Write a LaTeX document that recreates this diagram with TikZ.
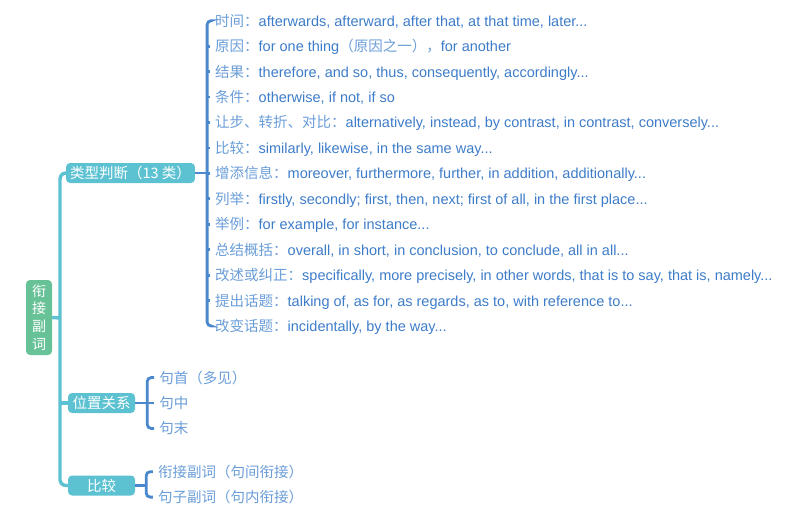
\documentclass[tikz,border=0pt]{standalone}
\usepackage{fontspec}
\setmainfont{Liberation Sans}
\newfontfamily\zh{Noto Sans CJK SC}
\usetikzlibrary{positioning}
\definecolor{Root}{HTML}{68C297}
\definecolor{Teal}{HTML}{5CC2D2}
\definecolor{Bar}{HTML}{4B87CD}
\definecolor{Leaf}{HTML}{3D7CC9}
\definecolor{Soft}{HTML}{6A9DD8}
\newcommand\cn[1]{{\zh\color{Soft}#1}}
\tikzset{
  rootbox/.style={rectangle, rounded corners=4pt, fill=Root, text=white,
    minimum width=26pt, minimum height=75pt, inner sep=0pt, align=center,
    font=\zh\fontsize{14}{17.7}\selectfont},
  catbox/.style={rectangle, rounded corners=4pt, fill=Teal, text=white,
    minimum width=67pt, minimum height=20pt, inner xsep=4pt, inner ysep=0pt,
    text height=11pt, text depth=0pt, font=\zh\fontsize{14.5}{17}\selectfont},
  leaf/.style={anchor=west, inner xsep=5pt, inner ysep=0pt, text height=13pt,
    text depth=2pt, text=Leaf, font=\fontsize{14.5}{17}\selectfont},
  trunk/.style={draw=Teal, line width=3.4pt, rounded corners=6pt},
  bar/.style={draw=Bar, line width=2.8pt, rounded corners=4pt}
}
\begin{document}
\begin{tikzpicture}[x=1pt, y=-1pt, node distance=25.44pt]
  \useasboundingbox (0,0) rectangle (793,520);
  \node[rootbox] (root) at (39,317.5) {衔\\接\\副\\词};
  \node[catbox] (kind) at (130.5,173) {类型判断（13 类）};
  \node[catbox] (pos) at (101.5,403) {位置关系};
  \node[catbox] (cmp) at (101.5,485.5) {比较};
  \coordinate (j0) at (60,318);

  % 类型判断
  \node[leaf] (t1) at (210,20.7) {\cn{时间：}afterwards, afterward, after that, at that time, later...};
  \node[leaf, below=of t1.west, anchor=west] (t2) {\cn{原因：}for one thing\cn{（原因之一），}for another};
  \node[leaf, below=of t2.west, anchor=west] (t3) {\cn{结果：}therefore, and so, thus, consequently, accordingly...};
  \node[leaf, below=of t3.west, anchor=west] (t4) {\cn{条件：}otherwise, if not, if so};
  \node[leaf, below=of t4.west, anchor=west] (t5) {\cn{让步、转折、对比：}alternatively, instead, by contrast, in contrast, conversely...};
  \node[leaf, below=of t5.west, anchor=west] (t6) {\cn{比较：}similarly, likewise, in the same way...};
  \node[leaf, below=of t6.west, anchor=west] (t7) {\cn{增添信息：}moreover, furthermore, further, in addition, additionally...};
  \node[leaf, below=of t7.west, anchor=west] (t8) {\cn{列举：}firstly, secondly; first, then, next; first of all, in the first place...};
  \node[leaf, below=of t8.west, anchor=west] (t9) {\cn{举例：}for example, for instance...};
  \node[leaf, below=of t9.west, anchor=west] (t10) {\cn{总结概括：}overall, in short, in conclusion, to conclude, all in all...};
  \node[leaf, below=of t10.west, anchor=west] (t11) {\cn{改述或纠正：}specifically, more precisely, in other words, that is to say, that is, namely...};
  \node[leaf, below=of t11.west, anchor=west] (t12) {\cn{提出话题：}talking of, as for, as regards, as to, with reference to...};
  \node[leaf, below=of t12.west, anchor=west] (t13) {\cn{改变话题：}incidentally, by the way...};

  % 位置关系
  \node[leaf, right=19pt of pos] (p2) {\cn{句中}};
  \node[leaf, above=of p2.west, anchor=west] (p1) {\cn{句首（多见）}};
  \node[leaf, below=of p2.west, anchor=west] (p3) {\cn{句末}};

  % 比较
  \node[leaf, above right=13.8pt and 17.7pt of cmp.east, anchor=west] (c1) {\cn{衔接副词（句间衔接）}};
  \node[leaf, below=of c1.west, anchor=west] (c2) {\cn{句子副词（句内衔接）}};

  \coordinate (b1) at ([xshift=12pt]kind.east);
  \coordinate (b2) at ([xshift=12pt]pos.east);
  \coordinate (b3) at ([xshift=11pt]cmp.east);

  \draw[trunk] (root.east) -- (j0);
  \draw[trunk] (kind.west) -| (j0) |- (cmp.west);
  \draw[trunk] (j0 |- pos.west) -- (pos.west);

  \draw[bar] (kind.east) -- (b1);
  \draw[bar] (t1.west) -| (b1) |- (t13.west);
  \draw[bar] (b1 |- t2.west) -- (t2.west);
  \draw[bar] (b1 |- t3.west) -- (t3.west);
  \draw[bar] (b1 |- t4.west) -- (t4.west);
  \draw[bar] (b1 |- t5.west) -- (t5.west);
  \draw[bar] (b1 |- t6.west) -- (t6.west);
  \draw[bar] (b1 |- t7.west) -- (t7.west);
  \draw[bar] (b1 |- t8.west) -- (t8.west);
  \draw[bar] (b1 |- t9.west) -- (t9.west);
  \draw[bar] (b1 |- t10.west) -- (t10.west);
  \draw[bar] (b1 |- t11.west) -- (t11.west);
  \draw[bar] (b1 |- t12.west) -- (t12.west);

  \draw[bar] (pos.east) -- (b2);
  \draw[bar] (p1.west) -| (b2) |- (p3.west);
  \draw[bar] (b2 |- p2.west) -- (p2.west);

  \draw[bar] (cmp.east) -- (b3);
  \draw[bar] (c1.west) -| (b3) |- (c2.west);
\end{tikzpicture}
\end{document}
